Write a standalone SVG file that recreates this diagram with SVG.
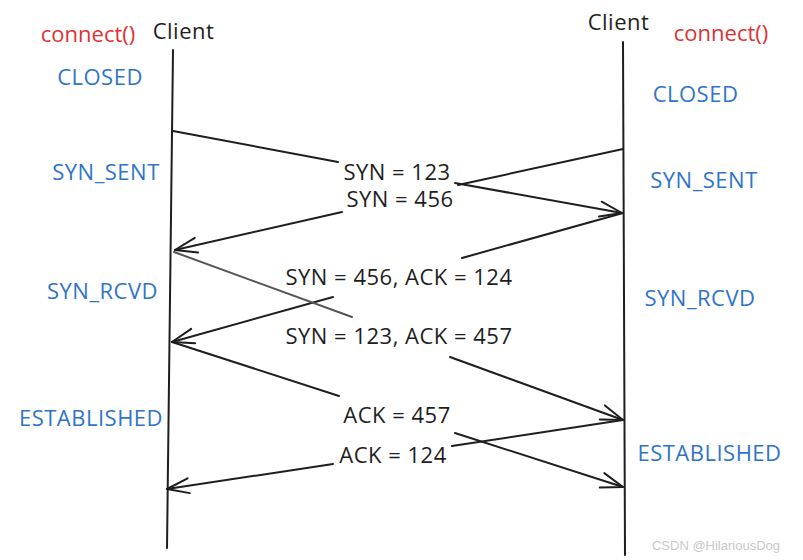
<svg xmlns="http://www.w3.org/2000/svg" width="803" height="560" viewBox="0 0 803 560">
<style>
  .t{font-family:"Open Sans","Liberation Sans",sans-serif;font-size:22px;letter-spacing:0.5px;text-anchor:middle}
  .dark{fill:#1e1e1e}
  .red{fill:#e03131;letter-spacing:0}
  .blue{fill:#2f74c8}
  .life{stroke:#1e1e1e;stroke-width:2;fill:none;stroke-linecap:round}
  .msg{stroke:#1e1e1e;stroke-width:2;fill:none;stroke-linecap:round}
  .wm{font-family:"Liberation Sans",sans-serif;font-size:13px;fill:#c8c8c8;text-anchor:middle}
</style>
<defs>
  <marker id="ah" markerUnits="userSpaceOnUse" markerWidth="30" markerHeight="24" refX="0" refY="0" viewBox="-26 -12 30 24" orient="auto" overflow="visible">
    <path d="M-22,-7.5 L0,0 L-22,7.5" fill="none" stroke="#1e1e1e" stroke-width="2" stroke-linecap="round" stroke-linejoin="round"/>
  </marker>
</defs>
<rect width="803" height="560" fill="#ffffff"/>

<g id="client-left">
  <text class="t dark" x="183.5" y="39">Client</text>
  <path class="life" d="M173,50 L167,548"/>
</g>
<g id="client-right">
  <text class="t dark" x="618.5" y="30">Client</text>
  <path class="life" d="M623,42 L625,555"/>
</g>
<g id="connect-left"><text class="t red" x="88" y="42">connect()</text></g>
<g id="connect-right"><text class="t red" x="721" y="41">connect()</text></g>

<g id="state-left-closed"><text class="t blue" x="100" y="85">CLOSED</text></g>
<g id="state-left-synsent"><text class="t blue" x="106" y="180">SYN_SENT</text></g>
<g id="state-left-synrcvd"><text class="t blue" x="102.5" y="299">SYN_RCVD</text></g>
<g id="state-left-established"><text class="t blue" x="91" y="426">ESTABLISHED</text></g>
<g id="state-right-closed"><text class="t blue" x="695.5" y="102">CLOSED</text></g>
<g id="state-right-synsent"><text class="t blue" x="704" y="188">SYN_SENT</text></g>
<g id="state-right-synrcvd"><text class="t blue" x="700" y="306">SYN_RCVD</text></g>
<g id="state-right-established"><text class="t blue" x="709.5" y="461">ESTABLISHED</text></g>

<g id="connectors">
  <g id="msg-syn123">
    <path class="msg" d="M173,131 L338,162"/>
    <path class="msg" d="M455,183 L622,213" marker-end="url(#ah)"/>
    <text class="t dark" x="397" y="180">SYN = 123</text>
  </g>
  <g id="msg-syn456">
    <path class="msg" d="M623,149 L458,185"/>
    <path class="msg" d="M342,212 L175,250" marker-end="url(#ah)"/>
    <text class="t dark" x="400" y="207">SYN = 456</text>
  </g>
  <g id="msg-syn456-ack124">
    <path class="msg" d="M623,213 L462,258"/>
    <path class="msg" d="M333,297 L172,342" marker-end="url(#ah)"/>
    <text class="t dark" x="399" y="285">SYN = 456, ACK = 124</text>
  </g>
  <g id="msg-syn123-ack457">
    <path class="msg" d="M174,252 L352,317" style="stroke:#555555"/>
    <path class="msg" d="M450,357 L623,420" marker-end="url(#ah)"/>
    <text class="t dark" x="399" y="344">SYN = 123, ACK = 457</text>
  </g>
  <g id="msg-ack457">
    <path class="msg" d="M172,342 L339,396"/>
    <path class="msg" d="M455,433 L623,487" marker-end="url(#ah)"/>
    <text class="t dark" x="397" y="423">ACK = 457</text>
  </g>
  <g id="msg-ack124">
    <path class="msg" d="M623,420 L452,446"/>
    <path class="msg" d="M333,464 L167,489" marker-end="url(#ah)"/>
    <text class="t dark" x="393" y="463">ACK = 124</text>
  </g>
</g>

<text class="wm" x="716" y="550">CSDN @HilariousDog</text>
</svg>
